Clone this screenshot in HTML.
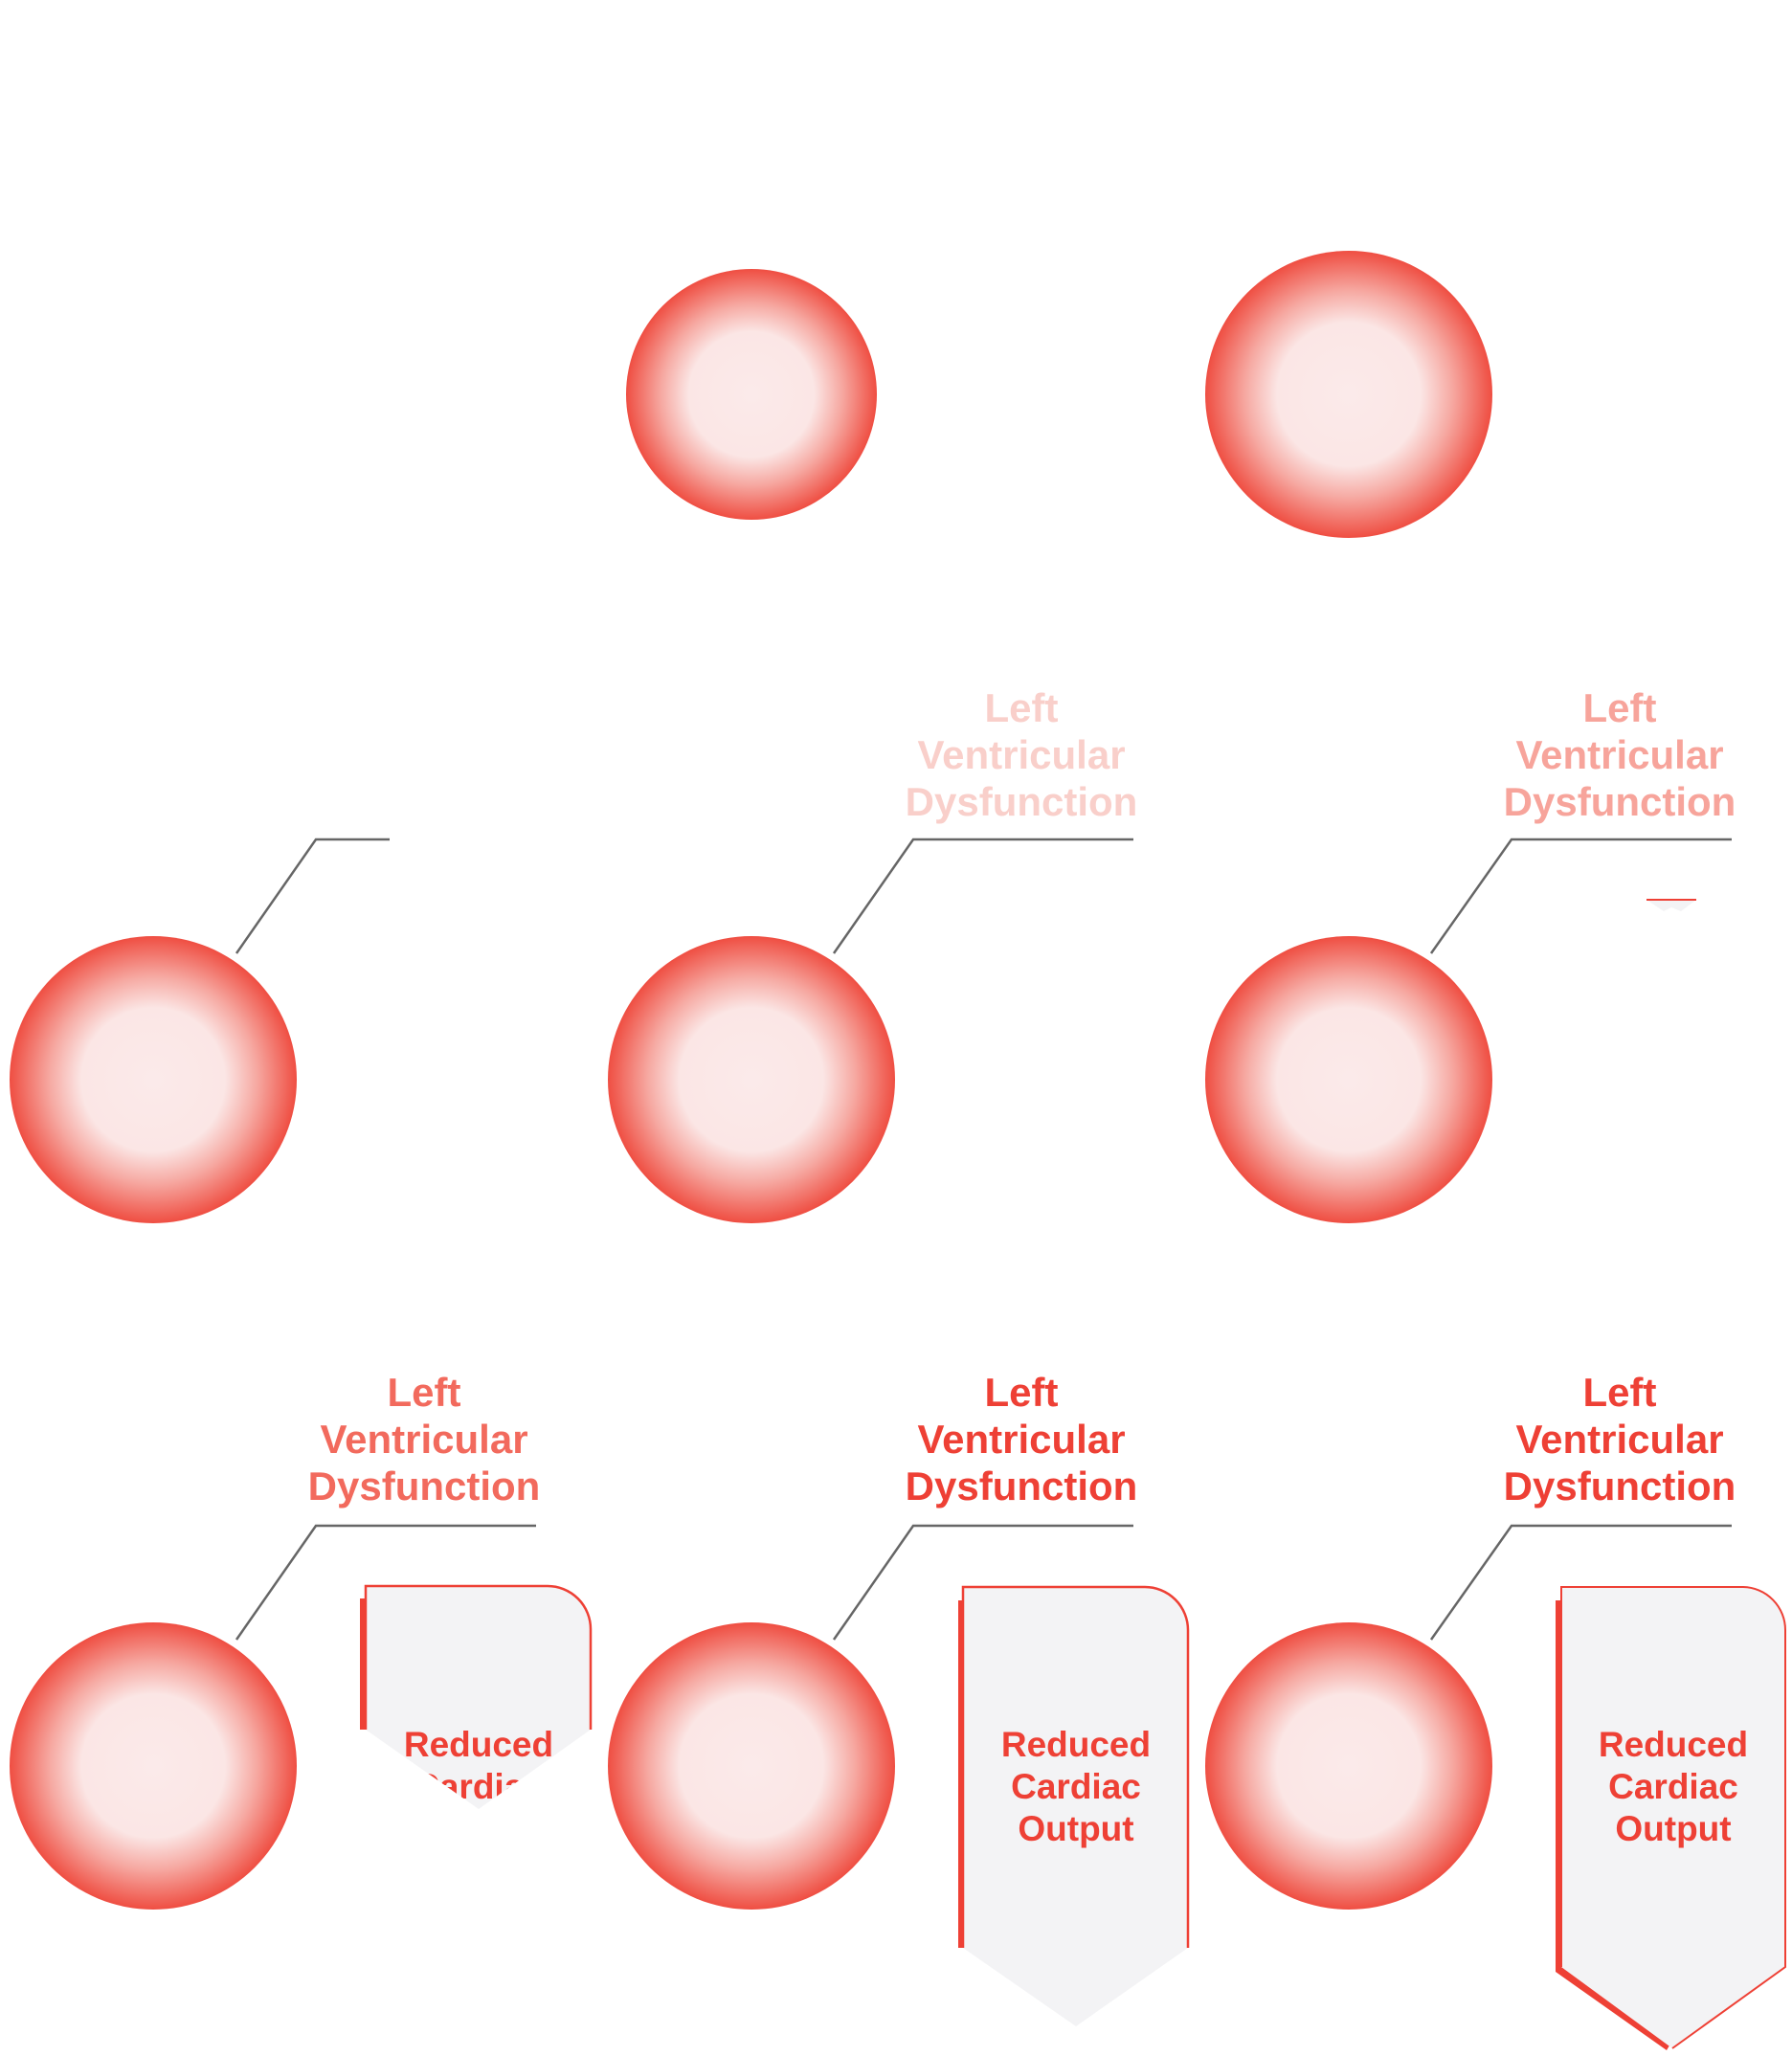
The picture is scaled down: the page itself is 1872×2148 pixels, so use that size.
<!DOCTYPE html>
<html><head><meta charset="utf-8"><style>
html,body{margin:0;padding:0;background:#fff}
svg{display:block}
text{font-family:"Liberation Sans",sans-serif;font-weight:bold;text-anchor:middle}
</style></head><body>
<svg width="1872" height="2148" viewBox="0 0 1872 2148" xmlns="http://www.w3.org/2000/svg">
<defs>
<radialGradient id="g" cx="50%" cy="50%" r="50%">
<stop offset="0" stop-color="#fbeaea"/>
<stop offset="0.5" stop-color="#fbe6e5"/>
<stop offset="0.72" stop-color="#f6a9a2"/>
<stop offset="1" stop-color="#ef4e42"/>
</radialGradient>
<clipPath id="c1"><path d="M382,1657 H572 A45,45 0 0 1 617,1702 V1807 L500,1890 L382,1807 Z"/></clipPath>
</defs>

<circle cx="785" cy="412" r="131" fill="url(#g)"/>
<circle cx="1409" cy="412" r="150" fill="url(#g)"/>

<circle cx="160" cy="1128" r="150" fill="url(#g)"/>
<circle cx="785" cy="1128" r="150" fill="url(#g)"/>
<circle cx="1409" cy="1128" r="150" fill="url(#g)"/>
<g fill="none" stroke="#666" stroke-width="2.5">
<polyline points="247,996 330,877 407,877"/>
<polyline points="871,996 954,877 1184,877"/>
<polyline points="1495,996 1579,877 1809,877"/>
</g>
<g font-size="42" fill="#f9cfca">
<text x="1067" y="754">Left</text><text x="1067" y="803">Ventricular</text><text x="1067" y="852">Dysfunction</text>
</g>
<g font-size="42" fill="#f7a49b">
<text x="1692" y="754">Left</text><text x="1692" y="803">Ventricular</text><text x="1692" y="852">Dysfunction</text>
</g>
<path d="M1720,940 H1772 L1756,952 L1746,948 L1738,952 Z" fill="#f3f3f5"/>
<line x1="1720" y1="940" x2="1772" y2="940" stroke="#ee4035" stroke-width="2"/>

<circle cx="160" cy="1845" r="150" fill="url(#g)"/>
<circle cx="785" cy="1845" r="150" fill="url(#g)"/>
<circle cx="1409" cy="1845" r="150" fill="url(#g)"/>
<g fill="none" stroke="#666" stroke-width="2.5">
<polyline points="247,1713 330,1594 560,1594"/>
<polyline points="871,1713 954,1594 1184,1594"/>
<polyline points="1495,1713 1579,1594 1809,1594"/>
</g>
<g font-size="42" fill="#f26a5d">
<text x="443" y="1469">Left</text><text x="443" y="1518">Ventricular</text><text x="443" y="1567">Dysfunction</text>
</g>
<g font-size="42" fill="#ee4035">
<text x="1067" y="1469">Left</text><text x="1067" y="1518">Ventricular</text><text x="1067" y="1567">Dysfunction</text>
<text x="1692" y="1469">Left</text><text x="1692" y="1518">Ventricular</text><text x="1692" y="1567">Dysfunction</text>
</g>

<rect x="376" y="1670" width="8" height="137" fill="#ee4035"/>
<path d="M382,1657 H572 A45,45 0 0 1 617,1702 V1807 L500,1890 L382,1807 Z" fill="#f3f3f5"/>
<path d="M382,1807 V1657 H572 A45,45 0 0 1 617,1702 V1807" fill="none" stroke="#ee4035" stroke-width="2.5"/>
<g clip-path="url(#c1)" font-size="37" fill="#ee4035">
<text x="500" y="1835">Reduced</text><text x="500" y="1879">Cardiac</text>
</g>

<rect x="1001" y="1672" width="8" height="363" fill="#ee4035"/>
<path d="M1006,1658 H1196 A45,45 0 0 1 1241,1703 V2035 L1124,2117 L1006,2035 Z" fill="#f3f3f5"/>
<path d="M1006,2035 V1658 H1196 A45,45 0 0 1 1241,1703 V2035" fill="none" stroke="#ee4035" stroke-width="2.5"/>
<g font-size="37" fill="#ee4035">
<text x="1124" y="1835">Reduced</text><text x="1124" y="1879">Cardiac</text><text x="1124" y="1923">Output</text>
</g>

<path d="M1625,1672 H1637 V2055 L1747,2132 L1741,2142 L1625,2060 Z" fill="#ee4035"/>
<path d="M1631,1658 H1821 A45,45 0 0 1 1866,1703 V2055 L1747,2140 L1631,2055 Z" fill="#f3f3f5"/>
<path d="M1631,2055 V1658 H1821 A45,45 0 0 1 1865,1703 V2055 L1747,2140" fill="none" stroke="#ee4035" stroke-width="2"/>
<g font-size="37" fill="#ee4035">
<text x="1748" y="1835">Reduced</text><text x="1748" y="1879">Cardiac</text><text x="1748" y="1923">Output</text>
</g>
</svg>
</body></html>
